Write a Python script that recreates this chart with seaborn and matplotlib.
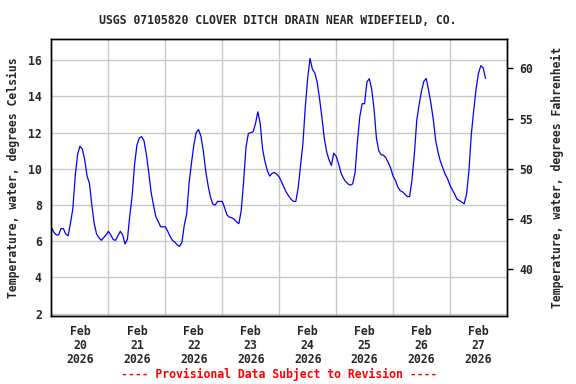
import pandas as pd
import seaborn as sns
import matplotlib.pyplot as plt

# Hourly water temperature (deg C)
feb20 = [6.75, 6.5, 6.35, 6.35, 6.7, 6.7, 6.4, 6.3, 7.0, 7.8, 9.6, 10.8,
         11.25, 11.1, 10.5, 9.6, 9.2, 8.0, 7.0, 6.4, 6.2, 6.05, 6.2, 6.35]
feb21 = [6.55, 6.35, 6.1, 6.05, 6.3, 6.55, 6.35, 5.85, 6.1, 7.4, 8.5, 10.2,
         11.3, 11.7, 11.78, 11.55, 10.8, 9.8, 8.7, 8.0, 7.35, 7.1, 6.8, 6.8]
feb22 = [6.8, 6.55, 6.27, 6.05, 5.95, 5.8, 5.72, 5.95, 6.9, 7.5, 9.2, 10.3,
         11.3, 12.0, 12.17, 11.8, 11.0, 9.9, 9.1, 8.45, 8.05, 8.0, 8.2, 8.2]
feb23 = [8.2, 7.85, 7.45, 7.33, 7.3, 7.22, 7.08, 6.97, 7.7, 9.3, 11.2, 11.95,
         12.0, 12.05, 12.5, 13.15, 12.5, 11.1, 10.4, 9.9, 9.6, 9.75, 9.8, 9.7]
feb24 = [9.55, 9.28, 8.98, 8.71, 8.5, 8.32, 8.2, 8.2, 8.95, 10.2, 11.4, 13.4,
         15.0, 16.1, 15.5, 15.3, 14.8, 13.9, 12.86, 11.7, 10.95, 10.5, 10.19, 10.87]
feb25 = [10.7, 10.3, 9.8, 9.5, 9.3, 9.17, 9.1, 9.17, 9.8, 11.5, 12.9, 13.6,
         13.6, 14.8, 14.98, 14.4, 13.3, 11.7, 11.0, 10.78, 10.75, 10.6, 10.35, 10.05]
feb26 = [9.6, 9.37, 9.0, 8.8, 8.73, 8.6, 8.47, 8.47, 9.4, 10.83, 12.68, 13.55,
         14.3, 14.84, 14.99, 14.34, 13.6, 12.7, 11.55, 10.9, 10.4, 10.05, 9.7, 9.45]
feb27 = [9.1, 8.84, 8.6, 8.32, 8.25, 8.16, 8.07, 8.6, 9.9, 11.9, 13.2, 14.4,
         15.26, 15.7, 15.58, 14.99]

temps = feb20 + feb21 + feb22 + feb23 + feb24 + feb25 + feb26 + feb27
times = pd.date_range('2026-02-20 00:00', periods=len(temps), freq='h')
df = pd.DataFrame({'time': times, 'temp': temps})

day_labels = ['Feb\n20\n2026', 'Feb\n21\n2026', 'Feb\n22\n2026', 'Feb\n23\n2026',
              'Feb\n24\n2026', 'Feb\n25\n2026', 'Feb\n26\n2026', 'Feb\n27\n2026']
c_ticks = [2, 4, 6, 8, 10, 12, 14, 16]
f_ticks = [40, 45, 50, 55, 60]

sns.set_style('white')
plt.rcParams['font.family'] = ['DejaVu Sans Mono']
plt.rcParams['font.weight'] = 'bold'
fs = 8.3

fig = plt.figure(figsize=(5.76, 3.84), dpi=100)
ax = fig.add_axes([0.0894, 0.178, 0.7906, 0.7198])

sns.lineplot(data=df, x='time', y='temp', ax=ax, color='#0000ff', linewidth=0.9)

x0 = pd.Timestamp('2026-02-20')
x1 = pd.Timestamp('2026-02-28')
ax.set_xlim(x0, x1)
ylo, yhi = 1.89, 17.16
ax.set_ylim(ylo, yhi)

# labels at noon, grid at midnight
noons = pd.date_range('2026-02-20 12:00', periods=8, freq='D')
ax.set_xticks(noons)
ax.set_xticklabels(day_labels, fontsize=fs, fontweight='bold', linespacing=1.1)
ax.set_xticks(pd.date_range('2026-02-21', periods=7, freq='D'), minor=True)
ax.set_yticks(c_ticks)
ax.set_yticklabels([str(v) for v in c_ticks], fontsize=fs, fontweight='bold')
ax.tick_params(axis='x', which='both', length=0, pad=7)
ax.tick_params(axis='y', length=0, pad=7)
ax.grid(False)
ax.grid(True, axis='y', which='major', color='#c8c8c8', linewidth=1)
ax.grid(True, axis='x', which='minor', color='#c8c8c8', linewidth=1)
ax.set_xlabel('')
ax.set_ylabel('Temperature, water, degrees Celsius', fontsize=fs, fontweight='bold', labelpad=6)
for s in ax.spines.values():
    s.set_color('black')
    s.set_linewidth(1.0)

# Fahrenheit axis on the right
ax2 = ax.twinx()
ax2.set_ylim(ylo * 9 / 5 + 32, yhi * 9 / 5 + 32)
ax2.set_yticks(f_ticks)
ax2.set_yticklabels([str(v) for v in f_ticks], fontsize=fs, fontweight='bold')
ax2.tick_params(axis='y', direction='out', length=4, width=1, pad=5, color='black')
ax2.set_ylabel('Temperature, water, degrees Fahrenheit', fontsize=fs, fontweight='bold', labelpad=13)
ax2.grid(False)
for s in ax2.spines.values():
    s.set_color('black')
    s.set_linewidth(1.0)

fig.text(0.482, 0.947, 'USGS 07105820 CLOVER DITCH DRAIN NEAR WIDEFIELD, CO.',
         ha='center', va='center', fontsize=fs, fontweight='bold')
fig.text(0.484, 0.024, '---- Provisional Data Subject to Revision ----',
         ha='center', va='center', fontsize=fs, fontweight='bold', color='red')

fig.savefig('out.png', dpi=100)
